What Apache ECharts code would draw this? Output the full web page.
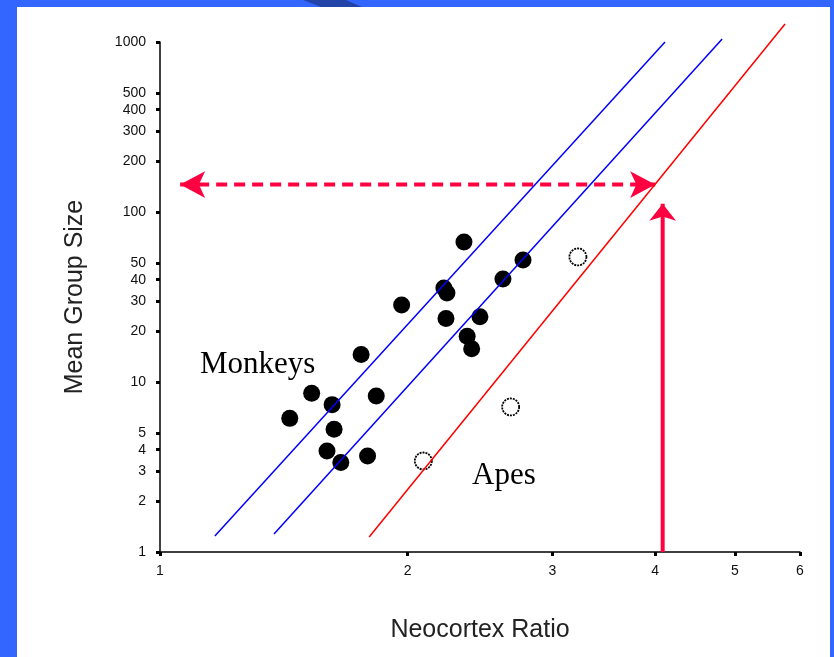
<!DOCTYPE html>
<html>
<head>
<meta charset="utf-8">
<script src="https://cdn.jsdelivr.net/npm/echarts@6/dist/echarts.min.js"></script>
<style>
  html, body { margin: 0; padding: 0; background: #fff; }
  #chart { width: 834px; height: 657px; }
</style>
</head>
<body>
<div id="chart"></div>
<script>
// Tick positions on the two log axes
const xTicks = [1, 2, 3, 4, 5, 6];
const yTicks = [1, 2, 3, 4, 5, 10, 20, 30, 40, 50, 100, 200, 300, 400, 500, 1000];

// Monkey species: [neocortex ratio, mean group size]
const monkeys = [
  [2.342, 66.6], [2.763, 52.2], [2.612, 40.4], [2.214, 35.7], [2.233, 33.4],
  [1.967, 28.4], [2.227, 23.6], [2.449, 24.2], [2.363, 18.6], [2.393, 15.7],
  [1.756, 14.5], [1.529, 8.58], [1.619, 7.36], [1.832, 8.27], [1.438, 6.11],
  [1.628, 5.27], [1.596, 3.93], [1.659, 3.36], [1.788, 3.67]
];

// Ape species
const apes = [[3.222, 54.4], [2.669, 7.13], [2.090, 3.43]];

// Fitted lines (end points in data units)
const monkeyUpper = [[1.166, 1.242], [4.112, 1000]];
const monkeyFit   = [[1.376, 1.276], [4.825, 1041]];
const apeFit      = [[1.796, 1.225], [5.754, 1276]];

// Human neocortex ratio read up to the ape line, then across to group size
const humanRatio    = [[4.085, 1], [4.085, 112]];
const predictedSize = [[1.058, 145], [4.0, 145]];

const ARROW_RED = '#FF0040';

const chart = echarts.init(document.getElementById('chart'));

const axisLabelStyle = {
  color: '#111',
  fontFamily: 'Liberation Sans, Arial, sans-serif',
  fontSize: 14,
  formatter: v => String(Math.round(v))
};

chart.setOption({
  backgroundColor: '#ffffff',
  animation: false,
  grid: { left: 160, right: 34, top: 42, bottom: 105, outerBoundsMode: 'none' },
  xAxis: {
    type: 'log', logBase: 10, min: 1, max: 6,
    name: 'Neocortex Ratio', nameLocation: 'middle', nameGap: 66,
    nameTextStyle: { color: '#222', fontFamily: 'Liberation Sans, Arial, sans-serif', fontSize: 25 },
    axisLine: { lineStyle: { color: '#000', width: 1.5 } },
    axisTick: { customValues: xTicks, length: 4, lineStyle: { color: '#000', width: 3 } },
    axisLabel: Object.assign({ customValues: xTicks, margin: 12 }, axisLabelStyle),
    splitLine: { show: false },
    minorTick: { show: false }
  },
  yAxis: {
    type: 'log', logBase: 10, min: 1, max: 1000,
    name: 'Mean Group Size', nameLocation: 'middle', nameGap: 72,
    nameTextStyle: { color: '#222', fontFamily: 'Liberation Sans, Arial, sans-serif', fontSize: 25 },
    axisLine: { lineStyle: { color: '#000', width: 1.5 } },
    axisTick: { customValues: yTicks, length: 4, lineStyle: { color: '#000', width: 3 } },
    axisLabel: Object.assign({ customValues: yTicks, margin: 14 }, axisLabelStyle),
    splitLine: { show: false },
    minorTick: { show: false }
  },
  series: [
    {
      name: 'predicted', type: 'line', z: 1, clip: false,
      data: [
        { value: predictedSize[0], symbol: 'arrow', symbolSize: [20, 25], symbolRotate: 90 },
        { value: predictedSize[1], symbol: 'arrow', symbolSize: [20, 25], symbolRotate: -90 }
      ],
      lineStyle: { color: ARROW_RED, width: 4, type: [11, 7] },
      itemStyle: { color: ARROW_RED, opacity: 1 },
      showSymbol: true
    },
    {
      name: 'human', type: 'line', z: 1, clip: false,
      data: [
        { value: humanRatio[0], symbol: 'none' },
        { value: humanRatio[1], symbol: 'arrow', symbolSize: [20, 17], symbolRotate: 0 }
      ],
      lineStyle: { color: ARROW_RED, width: 4 },
      itemStyle: { color: ARROW_RED, opacity: 1 },
      showSymbol: true
    },
    {
      name: 'Monkeys', type: 'scatter', z: 2,
      data: monkeys, symbolSize: 17,
      itemStyle: { color: '#000', opacity: 1 }
    },
    {
      name: 'Apes', type: 'scatter', z: 2,
      data: apes, symbolSize: 17,
      itemStyle: { color: '#fff', opacity: 1, borderColor: '#000', borderWidth: 1.8, borderType: [2, 1] }
    },
    {
      name: 'upper', type: 'line', z: 3, clip: false, data: monkeyUpper, symbol: 'none',
      lineStyle: { color: '#0000FF', width: 1.5 }
    },
    {
      name: 'monkey fit', type: 'line', z: 3, clip: false, data: monkeyFit, symbol: 'none',
      lineStyle: { color: '#0000FF', width: 1.5 }
    },
    {
      name: 'ape fit', type: 'line', z: 3, clip: false, data: apeFit, symbol: 'none',
      lineStyle: { color: '#FF0000', width: 1.5 }
    }
  ],
  graphic: [
    { type: 'rect', shape: { x: 0, y: 0, width: 17, height: 657 }, style: { fill: '#3366FF' }, silent: true },
    { type: 'rect', shape: { x: 0, y: 0, width: 834, height: 7 }, style: { fill: '#3366FF' }, silent: true },
    { type: 'rect', shape: { x: 830, y: 0, width: 4, height: 657 }, style: { fill: '#3366FF' }, silent: true },
    { type: 'polygon', shape: { points: [[303, 0], [346, 0], [362, 7], [321, 7]] }, style: { fill: '#2244A8' }, silent: true },
    {
      type: 'text', silent: true,
      style: { x: 200, y: 365, text: 'Monkeys', fill: '#000', font: '31px "Liberation Serif", "Times New Roman", serif', verticalAlign: 'middle' }
    },
    {
      type: 'text', silent: true,
      style: { x: 472, y: 476, text: 'Apes', fill: '#000', font: '31px "Liberation Serif", "Times New Roman", serif', verticalAlign: 'middle' }
    }
  ]
});
</script>
</body>
</html>
